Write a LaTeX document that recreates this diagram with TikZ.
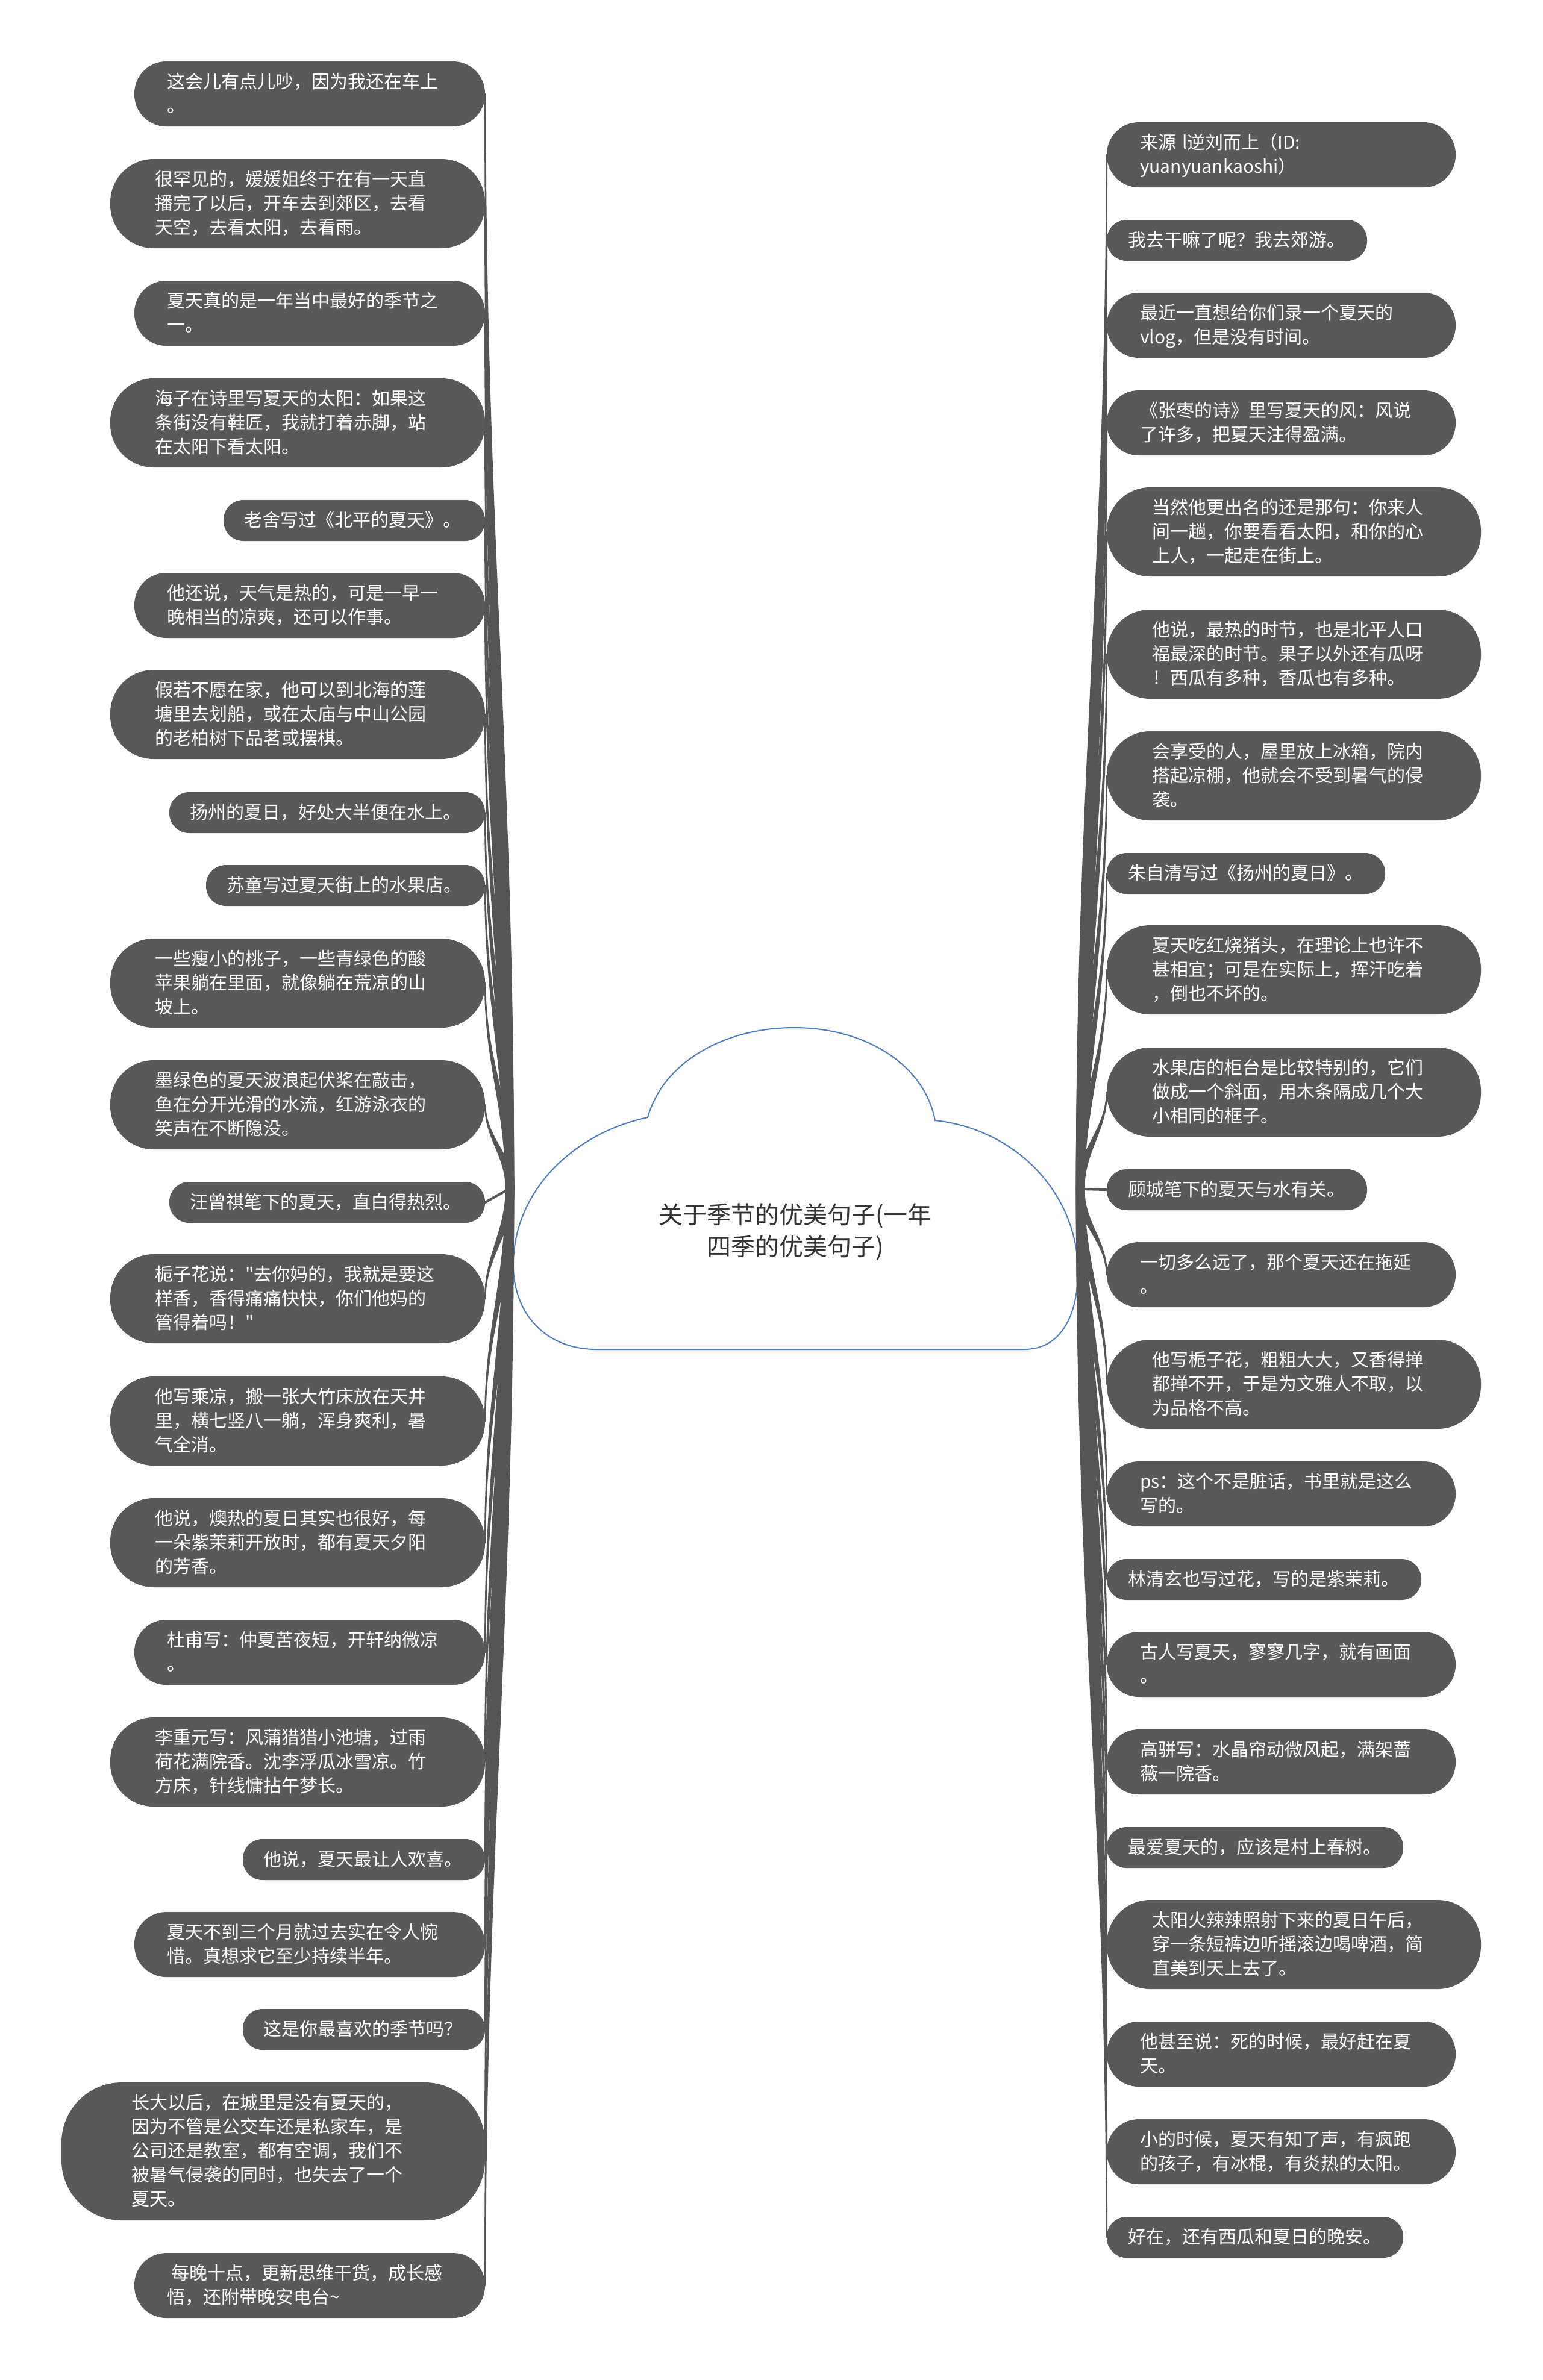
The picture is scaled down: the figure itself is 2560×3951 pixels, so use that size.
\documentclass[tikz,border=0pt]{standalone}
\usepackage{fontspec}
\setmainfont{Noto Sans CJK SC}[Ligatures=TeXOff]
\usetikzlibrary{calc}
\setlength{\parindent}{0pt}
\definecolor{leafc}{HTML}{595959}
\definecolor{connc}{HTML}{555555}
\definecolor{cloudc}{HTML}{4A7DC8}
\definecolor{roottxt}{HTML}{333333}
\newcommand\lstrut{\rule[-10pt]{0pt}{40pt}}
\newcommand\tapL[1]{\path[conn] (rlA) .. controls ($(rlA)!0.4!(rlA|-#1.east)$) and ($(#1.east)!0.4!(#1.east|-rlA)$) .. (#1.east) .. controls ($(#1.east)!0.4!(#1.east|-rlB)$) and ($(rlB)!0.4!(rlB|-#1.east)$) .. (rlB) -- cycle;}
\newcommand\tapR[1]{\path[conn] (rrA) .. controls ($(rrA)!0.4!(rrA|-#1.west)$) and ($(#1.west)!0.4!(#1.west|-rrA)$) .. (#1.west) .. controls ($(#1.west)!0.4!(#1.west|-rrB)$) and ($(rrB)!0.4!(rrB|-#1.west)$) .. (rrB) -- cycle;}
\begin{document}
\begin{tikzpicture}[x=1pt,y=-1pt,
  leaf/.style={fill=leafc, text=white, inner sep=0pt, align=left,
    font=\fontsize{30pt}{40pt}\selectfont,
    execute at begin node={\noindent\lstrut}, execute at end node={\lstrut}},
  ln1/.style={leaf, minimum height=68pt, rounded corners=33pt},
  ln2/.style={leaf, minimum height=108pt, rounded corners=53pt},
  ln3/.style={leaf, minimum height=148pt, rounded corners=72pt},
  ln5/.style={leaf, minimum height=229pt, rounded corners=100pt},
  Ltwo/.style={ln2, minimum width=582pt, text width=474pt},
  Lthree/.style={ln3, minimum width=622pt, text width=474pt},
  Rtwo/.style={ln2, minimum width=579pt, text width=469pt},
  Rthree/.style={ln3, minimum width=621pt, text width=471pt},
  conn/.style={fill=connc, draw=connc, line width=2.5pt, line join=round},
  connline/.style={draw=connc, line width=4pt, line cap=round},
  rootc/.style={align=center, text=roottxt, inner sep=0pt, font=\fontsize{40pt}{53pt}\selectfont}
]
\useasboundingbox (0,0) rectangle (2560,3951);
\fill[white] (0,0) rectangle (2560,3951);

% cloud
\draw[cloudc, line width=2pt, fill=white]
  (990,2240) .. controls (905,2240) and (852,2180) .. (852,2100)
  .. controls (852,1975) and (955,1880) .. (1075,1855)
  .. controls (1100,1765) and (1200,1706) .. (1318,1706)
  .. controls (1440,1706) and (1535,1770) .. (1552,1860)
  .. controls (1690,1875) and (1789,1985) .. (1789,2110)
  .. controls (1789,2185) and (1760,2240) .. (1700,2240)
  -- cycle;
\node[rootc] (root) at (1320,2045) {关于季节的优美句子(一年\\四季的优美句子)};

\coordinate (rl) at (846,1973);
\coordinate (rlA) at (840,1973);
\coordinate (rlB) at (852,1973);
\coordinate (rr) at (1793,1974);
\coordinate (rrA) at (1787,1974);
\coordinate (rrB) at (1799,1974);

% left nodes
\node[Ltwo] (L1) at (514,156) {这会儿有点儿吵，因为我还在车上\\。};
\node[Lthree] (L2) at (494,338) {很罕见的，媛媛姐终于在有一天直\\播完了以后，开车去到郊区，去看\\天空，去看太阳，去看雨。};
\node[Ltwo] (L3) at (514,520) {夏天真的是一年当中最好的季节之\\一。};
\node[Lthree] (L4) at (494,702) {海子在诗里写夏天的太阳：如果这\\条街没有鞋匠，我就打着赤脚，站\\在太阳下看太阳。};
\node[ln1, minimum width=434pt, text width=366pt] (L5) at (588,864) {老舍写过《北平的夏天》。};
\node[Ltwo] (L6) at (514,1005) {他还说，天气是热的，可是一早一\\晚相当的凉爽，还可以作事。};
\node[Lthree] (L7) at (494,1186) {假若不愿在家，他可以到北海的莲\\塘里去划船，或在太庙与中山公园\\的老柏树下品茗或摆棋。};
\node[ln1, minimum width=524pt, text width=456pt] (L8) at (543,1349) {扬州的夏日，好处大半便在水上。};
\node[ln1, minimum width=463pt, text width=395pt] (L9) at (573.5,1470) {苏童写过夏天街上的水果店。};
\node[Lthree] (L10) at (494,1632) {一些瘦小的桃子，一些青绿色的酸\\苹果躺在里面，就像躺在荒凉的山\\坡上。};
\node[Lthree] (L11) at (494,1834) {墨绿色的夏天波浪起伏桨在敲击，\\鱼在分开光滑的水流，红游泳衣的\\笑声在不断隐没。};
\node[ln1, minimum width=524pt, text width=456pt] (L12) at (543,1996) {汪曾祺笔下的夏天，直白得热烈。};
\node[Lthree] (L13) at (494,2156) {栀子花说："去你妈的，我就是要这\\样香，香得痛痛快快，你们他妈的\\管得着吗！"};
\node[Lthree] (L14) at (494,2359) {他写乘凉，搬一张大竹床放在天井\\里，横七竖八一躺，浑身爽利，暑\\气全消。};
\node[Lthree] (L15) at (494,2561) {他说，燠热的夏日其实也很好，每\\一朵紫茉莉开放时，都有夏天夕阳\\的芳香。};
\node[Ltwo] (L16) at (514,2743) {杜甫写：仲夏苦夜短，开轩纳微凉\\。};
\node[Lthree] (L17) at (494,2925) {李重元写：风蒲猎猎小池塘，过雨\\荷花满院香。沈李浮瓜冰雪凉。竹\\方床，针线慵拈午梦长。};
\node[ln1, minimum width=402pt, text width=334pt] (L18) at (604,3087) {他说，夏天最让人欢喜。};
\node[Ltwo] (L19) at (514,3228) {夏天不到三个月就过去实在令人惋\\惜。真想求它至少持续半年。};
\node[ln1, minimum width=402pt, text width=334pt] (L20) at (604,3369) {这是你最喜欢的季节吗？};
\node[ln5, minimum width=703pt, text width=471pt] (L21) at (453.5,3571.5) {长大以后，在城里是没有夏天的，\\因为不管是公交车还是私家车，是\\公司还是教室，都有空调，我们不\\被暑气侵袭的同时，也失去了一个\\夏天。};
\node[Ltwo] (L22) at (514,3794) {\hspace*{7pt}每晚十点，更新思维干货，成长感\\悟，还附带晚安电台\textasciitilde};

% right nodes
\node[Rtwo] (R1) at (2126.5,257) {来源 l逆刘而上（ID:\\yuanyuankaoshi）};
\node[ln1, minimum width=432pt, text width=362pt] (R2) at (2053,399) {我去干嘛了呢？我去郊游。};
\node[Rtwo] (R3) at (2126.5,540) {最近一直想给你们录一个夏天的\\vlog，但是没有时间。};
\node[Rtwo] (R4) at (2126.5,702) {《张枣的诗》里写夏天的风：风说\\了许多，把夏天注得盈满。};
\node[Rthree] (R5) at (2147.5,883) {当然他更出名的还是那句：你来人\\间一趟，你要看看太阳，和你的心\\上人，一起走在街上。};
\node[Rthree] (R6) at (2147.5,1086) {他说，最热的时节，也是北平人口\\福最深的时节。果子以外还有瓜呀\\！西瓜有多种，香瓜也有多种。};
\node[Rthree] (R7) at (2147.5,1288) {会享受的人，屋里放上冰箱，院内\\搭起凉棚，他就会不受到暑气的侵\\袭。};
\node[ln1, minimum width=462pt, text width=392pt] (R8) at (2068,1450) {朱自清写过《扬州的夏日》。};
\node[Rthree] (R9) at (2147.5,1610) {夏天吃红烧猪头，在理论上也许不\\甚相宜；可是在实际上，挥汗吃着\\，倒也不坏的。};
\node[Rthree] (R10) at (2147.5,1813) {水果店的柜台是比较特别的，它们\\做成一个斜面，用木条隔成几个大\\小相同的框子。};
\node[ln1, minimum width=432pt, text width=362pt] (R11) at (2053,1975) {顾城笔下的夏天与水有关。};
\node[Rtwo] (R12) at (2126.5,2116) {一切多么远了，那个夏天还在拖延\\。};
\node[Rthree] (R13) at (2147.5,2298) {他写栀子花，粗粗大大，又香得掸\\都掸不开，于是为文雅人不取，以\\为品格不高。};
\node[Rtwo] (R14) at (2126.5,2480) {ps：这个不是脏话，书里就是这么\\写的。};
\node[ln1, minimum width=522pt, text width=452pt] (R15) at (2098,2622) {林清玄也写过花，写的是紫茉莉。};
\node[Rtwo] (R16) at (2126.5,2763) {古人写夏天，寥寥几字，就有画面\\。};
\node[Rtwo] (R17) at (2126.5,2925) {高骈写：水晶帘动微风起，满架蔷\\薇一院香。};
\node[ln1, minimum width=492pt, text width=422pt] (R18) at (2083,3067) {最爱夏天的，应该是村上春树。};
\node[Rthree] (R19) at (2147.5,3228) {太阳火辣辣照射下来的夏日午后，\\穿一条短裤边听摇滚边喝啤酒，简\\直美到天上去了。};
\node[Rtwo] (R20) at (2126.5,3410) {他甚至说：死的时候，最好赶在夏\\天。};
\node[Rtwo] (R21) at (2126.5,3572) {小的时候，夏天有知了声，有疯跑\\的孩子，有冰棍，有炎热的太阳。};
\node[ln1, minimum width=492pt, text width=422pt] (R22) at (2083,3714) {好在，还有西瓜和夏日的晚安。};

% connectors
\foreach \n in {L1,L2,L3,L4,L5,L6,L7,L8,L9,L10,L11,L13,L14,L15,L16,L17,L18,L19,L20,L21,L22} {\tapL{\n}}
\draw[connline] (rl) -- (L12.east);
\foreach \n in {R1,R2,R3,R4,R5,R6,R7,R8,R9,R10,R12,R13,R14,R15,R16,R17,R18,R19,R20,R21,R22} {\tapR{\n}}
\draw[connline] (rr) -- (R11.west);
\end{tikzpicture}
\end{document}
